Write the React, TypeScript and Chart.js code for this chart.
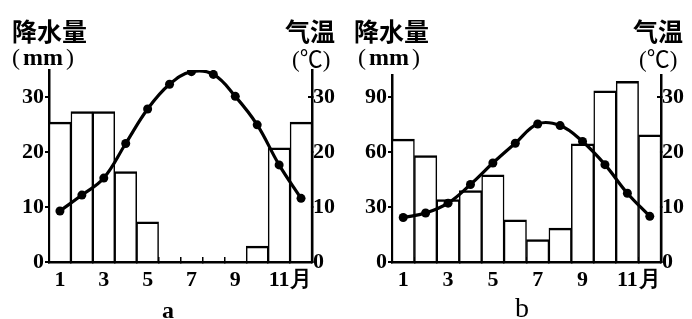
import React, { useEffect, useRef } from 'react';
import { Chart, registerables } from 'chart.js';
Chart.register(...registerables);

const monthLabels = ['1', '', '3', '', '5', '', '7', '', '9', '', '11', '月'];

const precipA = [25.5, 27.4, 27.4, 16.5, 7.3, 0, 0, 0, 0, 2.9, 20.8, 25.5];
const tempA = [9.3, 12.2, 15.3, 21.6, 27.9, 32.4, 34.7, 34.2, 30.2, 25, 17.7, 11.6];
const precipTicksA = [0, 10, 20, 30];
const tempTicksA = [0, 10, 20, 30];

const precipB = [67, 58, 34, 39, 47.6, 23, 12.2, 18.5, 64.5, 93.4, 98.5, 69.4];
const tempB = [8.1, 8.9, 10.7, 14.1, 18, 21.6, 25.1, 24.8, 21.9, 17.7, 12.5, 8.3];
const precipTicksB = [0, 30, 60, 90];
const tempTicksB = [0, 10, 20, 30];

const tickFont = { family: '"Liberation Serif", "Times New Roman", serif', size: 22, weight: 'bold' as const };

function makeConfig(
  precip: number[], temp: number[], pTicks: number[], tTicks: number[],
  pMax: number, tMax: number, padTop: number, leftW: number, rightW: number
): any {
  return {
    type: 'bar',
    data: {
      labels: monthLabels,
      datasets: [
        {
          type: 'line',
          data: temp,
          yAxisID: 'y1',
          borderColor: '#000',
          borderWidth: 3.2,
          tension: 0.4,
          pointRadius: 4.5,
          pointBackgroundColor: '#000',
          pointBorderWidth: 0,
          order: 0,
        },
        {
          type: 'bar',
          data: precip,
          yAxisID: 'y',
          backgroundColor: '#fff',
          borderColor: '#000',
          borderWidth: { top: 2.5, left: 1.5, right: 1.5, bottom: 0 },
          barPercentage: 1,
          categoryPercentage: 1,
          order: 1,
        },
      ],
    },
    options: {
      animation: false,
      responsive: false,
      devicePixelRatio: 1,
      layout: { padding: { top: padTop, left: 0, right: 0, bottom: 0 } },
      plugins: { legend: { display: false }, tooltip: { enabled: false }, title: { display: false } },
      scales: {
        x: {
          grid: { display: true, drawOnChartArea: false, offset: true, tickLength: -5, color: '#000', lineWidth: 1.5 },
          border: { display: true, color: '#000', width: 2.5 },
          ticks: { font: tickFont, color: '#000', padding: 10, maxRotation: 0, autoSkip: false },
          afterFit: (s: any) => { s.height = 57; },
        },
        y: {
          position: 'left',
          min: 0,
          max: pMax,
          grid: { drawOnChartArea: false, tickLength: 4, color: '#000', lineWidth: 2 },
          border: { display: true, color: '#000', width: 2.5 },
          ticks: { font: tickFont, color: '#000', padding: 1 },
          afterBuildTicks: (s: any) => { s.ticks = pTicks.map((v) => ({ value: v })); },
          afterFit: (s: any) => { s.width = leftW; },
        },
        y1: {
          position: 'right',
          min: 0,
          max: tMax,
          grid: { drawOnChartArea: false, tickLength: -4, color: '#000', lineWidth: 2 },
          border: { display: true, color: '#000', width: 2.5 },
          ticks: { font: tickFont, color: '#000', padding: 5 },
          afterBuildTicks: (s: any) => { s.ticks = tTicks.map((v) => ({ value: v })); },
          afterFit: (s: any) => { s.width = rightW; },
        },
      },
    },
  };
}

function ClimateChart(props: { cfg: any; left: number }) {
  const ref = useRef<HTMLCanvasElement>(null);
  useEffect(() => {
    if (!ref.current) return;
    const chart = new Chart(ref.current, props.cfg);
    return () => chart.destroy();
  }, []);
  return (
    <canvas
      ref={ref}
      width={346}
      height={319}
      style={{ position: 'absolute', left: props.left, top: 0, width: 346, height: 319 }}
    />
  );
}

const cjk = '"Noto Sans CJK SC", sans-serif';
const serif = '"Liberation Serif", "Times New Roman", serif';

function Txt(props: { x: number; y: number; size: number; family: string; weight?: number; children: any }) {
  return (
    <div
      style={{
        position: 'absolute', left: props.x, top: props.y, fontSize: props.size, fontFamily: props.family,
        fontWeight: props.weight ?? 700, lineHeight: 1, whiteSpace: 'nowrap', color: '#000',
      }}
    >
      {props.children}
    </div>
  );
}

function MM(props: { x: number }) {
  return (
    <Txt x={props.x} y={45} size={24} family={serif}>
      <span style={{ fontWeight: 400, marginRight: 3 }}>(</span>mm<span style={{ fontWeight: 400, marginLeft: 3 }}>)</span>
    </Txt>
  );
}

function DegC(props: { x: number }) {
  return (
    <Txt x={props.x} y={46} size={23} family={serif} weight={400}>
      (<span style={{ fontFamily: cjk, fontWeight: 400 }}>℃</span>)
    </Txt>
  );
}

export default function App() {
  const cfgA = makeConfig(precipA, tempA, precipTicksA, tempTicksA, 35, 35, 70, 49, 34);
  const cfgB = makeConfig(precipB, tempB, precipTicksB, tempTicksB, 102, 34, 75, 46, 31);
  return (
    <div style={{ position: 'absolute', left: 0, top: 0, width: 692, height: 319, background: '#fff', overflow: 'hidden' }}>
      <ClimateChart cfg={cfgA} left={0} />
      <ClimateChart cfg={cfgB} left={346} />
      <Txt x={12} y={18} size={25} family={cjk}>降水量</Txt>
      <MM x={12} />
      <Txt x={285} y={18} size={25} family={cjk}>气温</Txt>
      <DegC x={292} />
      <Txt x={354} y={18} size={25} family={cjk}>降水量</Txt>
      <MM x={358} />
      <Txt x={633} y={18} size={25} family={cjk}>气温</Txt>
      <DegC x={639} />
      <Txt x={162} y={298} size={24} family={serif}>a</Txt>
      <Txt x={515} y={294} size={28} family={serif} weight={400}>b</Txt>
    </div>
  );
}
